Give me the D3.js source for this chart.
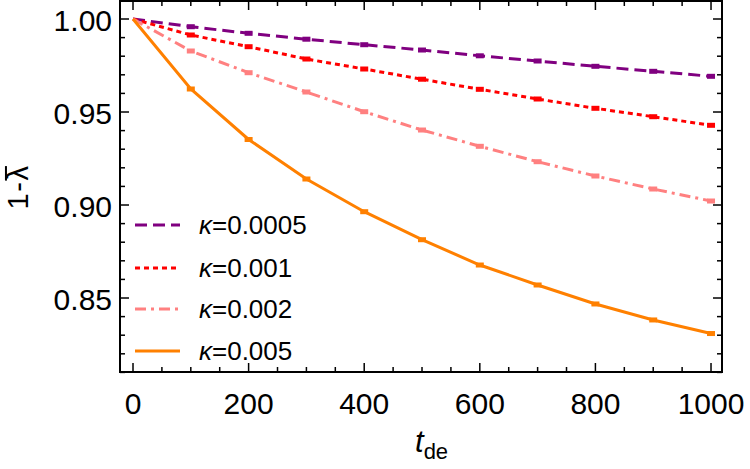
<!DOCTYPE html>
<html><head><meta charset="utf-8">
<script src="https://cdn.jsdelivr.net/npm/d3@7"></script>
<style>body{margin:0;background:#fff}svg{display:block}text{font-family:"Liberation Sans",Arial,sans-serif;fill:#000}</style>
</head><body><svg id="c" width="750" height="469"></svg>
<script>
const tValues = [0,100,200,300,400,500,600,700,800,900,1000];
const k00005 = [1,0.99586,0.99231,0.98914,0.98618,0.98333,0.98022,0.97742,0.97457,0.97188,0.96919];
const k0001  = [1,0.99140,0.98511,0.97849,0.97312,0.96763,0.96220,0.95699,0.95199,0.94747,0.94285];
const k0002  = [1,0.98280,0.97113,0.96075,0.95016,0.94032,0.93156,0.92328,0.91559,0.90860,0.90215];
const k0005  = [1,0.96237,0.93522,0.91398,0.89640,0.88134,0.86774,0.85700,0.84680,0.83820,0.83090];
const seriesLabels = ["0.0005","0.001","0.002","0.005"];
const xTickLabels = [0,200,400,600,800,1000];
const yTickLabels = [0.85,0.90,0.95,1.00];

const series = [
  {label:seriesLabels[0], values:k00005, color:"#800080", dash:"12,6"},
  {label:seriesLabels[1], values:k0001,  color:"#ff0000", dash:"5,4"},
  {label:seriesLabels[2], values:k0002,  color:"#ff8080", dash:"11,5,3,5"},
  {label:seriesLabels[3], values:k0005,  color:"#ff8000", dash:null}
];

const svg = d3.select("#c");
const L=120, R=722, T=1, B=372;
const x = d3.scaleLinear().domain([-22.5,1019]).range([L,R]);
const y = d3.scaleLinear().domain([0.81022,1.00968]).range([B,T]);

const xMinor = d3.range(0,1001,50);
const yMinor = d3.range(81,101,1).map(v=>v/100);

function tickLen(isMajor){return isMajor?9:5;}
const g = svg.append("g");
xMinor.forEach(v=>{
  const maj = v%200===0; const len=tickLen(maj);
  g.append("line").attr("x1",x(v)).attr("x2",x(v)).attr("y1",B).attr("y2",B-len).attr("stroke","#000").attr("stroke-width",1.5);
  g.append("line").attr("x1",x(v)).attr("x2",x(v)).attr("y1",T).attr("y2",T+len).attr("stroke","#000").attr("stroke-width",1.5);
});
yMinor.forEach(v=>{
  const maj = Math.round(v*100)%5===0; const len=tickLen(maj);
  g.append("line").attr("x1",L).attr("x2",L+len).attr("y1",y(v)).attr("y2",y(v)).attr("stroke","#000").attr("stroke-width",1.5);
  g.append("line").attr("x1",R).attr("x2",R-len).attr("y1",y(v)).attr("y2",y(v)).attr("stroke","#000").attr("stroke-width",1.5);
});
xTickLabels.forEach(v=>{
  svg.append("text").attr("x",x(v)).attr("y",414).attr("text-anchor","middle")
    .attr("font-size",30).text(v);
});
yTickLabels.forEach(v=>{
  svg.append("text").attr("x",112).attr("y",y(v)+12).attr("text-anchor","end")
    .attr("font-size",30).text(v.toFixed(2));
});
svg.append("rect").attr("x",L).attr("y",T).attr("width",R-L).attr("height",B-T)
  .attr("fill","none").attr("stroke","#000").attr("stroke-width",2);

const line = d3.line().x((d,i)=>x(tValues[i])).y(d=>y(d));
series.forEach(s=>{
  svg.append("path").datum(s.values).attr("d",line).attr("fill","none")
    .attr("stroke",s.color).attr("stroke-width",3).attr("stroke-dasharray",s.dash);
  svg.selectAll(null).data(s.values.slice(1)).enter().append("rect")
    .attr("x",(d,i)=>x(tValues[i+1])-4).attr("y",d=>y(d)-2.5).attr("width",8).attr("height",5)
    .attr("fill",s.color);
});

const legY=[225,268,309,351];
series.forEach((s,i)=>{
  svg.append("line").attr("x1",135).attr("x2",180).attr("y1",legY[i]).attr("y2",legY[i])
    .attr("stroke",s.color).attr("stroke-width",3).attr("stroke-dasharray",s.dash);
  const t = svg.append("text").attr("x",199).attr("y",legY[i]+9).attr("font-size",26);
  t.append("tspan").attr("font-style","italic").text("κ");
  t.append("tspan").text("="+s.label);
});

const xt = svg.append("text").attr("x",415).attr("y",452).attr("font-size",31);
xt.append("tspan").attr("font-style","italic").text("t");
xt.append("tspan").attr("font-size",22).attr("dy",7).text("de");

const yFs = 29;
const yg = svg.append("g").attr("transform","translate(28,187) rotate(-90)");
const yt = yg.append("text").attr("x",0).attr("y",0).attr("text-anchor","middle")
  .attr("font-size",yFs).attr("letter-spacing",1.5).text("1-λ");
const tot = yt.node().getComputedTextLength();
const pre = yt.node().getSubStringLength(0,2);
const lw = yt.node().getSubStringLength(2,1);
const lx0 = -tot/2 + pre;
yg.append("line").attr("x1",lx0).attr("x2",lx0+lw-1.5)
  .attr("y1",-yFs*0.76).attr("y2",-yFs*0.76).attr("stroke","#000").attr("stroke-width",2);
</script></body></html>
